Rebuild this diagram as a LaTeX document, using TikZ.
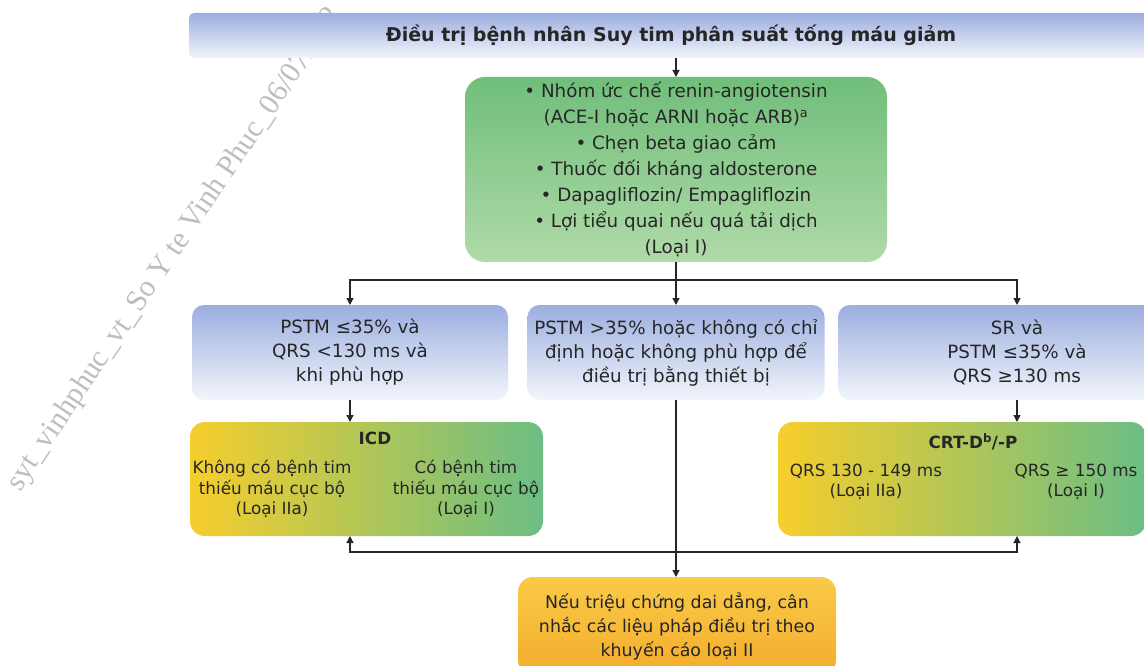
\documentclass[tikz,border=0pt]{standalone}
\usepackage{fontspec}
\setmainfont{DejaVu Sans}
\newfontfamily\wmfont{Liberation Serif}
\usetikzlibrary{arrows.meta}
\definecolor{bluetop}{RGB}{156,174,224}
\definecolor{bluebot}{RGB}{242,245,251}
\definecolor{greentop}{RGB}{112,190,122}
\definecolor{greenbot}{RGB}{176,218,168}
\definecolor{yel}{RGB}{246,206,44}
\definecolor{ymid}{RGB}{205,212,88}
\definecolor{grn}{RGB}{108,190,132}
\definecolor{orgtop}{RGB}{250,202,72}
\definecolor{orgbot}{RGB}{244,172,44}
\definecolor{txt}{RGB}{38,38,38}
\definecolor{wm}{RGB}{190,190,190}
\tikzset{
  every node/.style={inner sep=0pt, outer sep=0pt, text=txt},
  titlebox/.style={rectangle, rounded corners=5pt, top color=bluetop, bottom color=bluebot, font=\fontsize{19}{22}\selectfont\bfseries},
  bluebox/.style={rectangle, rounded corners=12pt, top color=bluetop, bottom color=bluebot, align=center, font=\fontsize{18.3}{24}\selectfont},
  greenbox/.style={rectangle, rounded corners=20pt, top color=greentop, bottom color=greenbot, align=center, font=\fontsize{18.3}{26}\selectfont},
  devbox/.style={rectangle, rounded corners=15pt, left color=yel, middle color=ymid, right color=grn},
  orgbox/.style={rectangle, rounded corners=15pt, top color=orgtop, bottom color=orgbot, align=center, font=\fontsize{17.4}{24}\selectfont},
  devtitle/.style={font=\fontsize{16.8}{20}\selectfont\bfseries},
  devtext/.style={align=center, font=\fontsize{16.8}{20.5}\selectfont},
  arr/.style={-{Triangle[length=7pt,width=7pt]}, line width=1.3pt, draw=black!85}
}
\begin{document}
\begin{tikzpicture}[x=1pt,y=-1pt]
\useasboundingbox (0,0) rectangle (1144,666);
\clip (0,0) rectangle (1144,666);
\fill[white] (0,0) rectangle (1144,666);
% watermark
\node[rotate=56, anchor=base west, font=\wmfont\fontsize{30}{31}\selectfont, text=wm] (wmark) at (20,492) {syt\_vinhphuc\_vt\_So Y te Vinh Phuc\_06/07/202};
% boxes
\node[titlebox, minimum width=964pt, minimum height=45pt] (title) at (671,35.5) {Điều trị bệnh nhân Suy tim phân suất tống máu giảm};
\node[greenbox, minimum width=422pt, minimum height=185pt] (green) at (676,169.5) {• Nhóm ức chế renin-angiotensin\\(ACE-I hoặc ARNI hoặc ARB)\textsuperscript{a}\\• Chẹn beta giao cảm\\• Thuốc đối kháng aldosterone\\• Dapagliflozin/ Empagliflozin\\• Lợi tiểu quai nếu quá tải dịch\\(Loại I)};
\node[bluebox, minimum width=316pt, minimum height=95pt] (bl) at (350,352.5) {PSTM ≤35\% và\\QRS <130 ms và\\khi phù hợp};
\node[bluebox, minimum width=297pt, minimum height=95pt] (bm) at (676,352.5) {PSTM >35\% hoặc không có chỉ\\định hoặc không phù hợp để\\điều trị bằng thiết bị};
\node[bluebox, minimum width=358pt, minimum height=95pt] (br) at (1017,352.5) {SR và\\PSTM ≤35\% và\\QRS ≥130 ms};
\node[devbox, minimum width=353pt, minimum height=114pt] (icd) at (366.5,479) {};
\node[devtitle] (icdt) at (375,438) {ICD};
\node[devtext] (icdl) at (272,489) {Không có bệnh tim\\thiếu máu cục bộ\\(Loại IIa)};
\node[devtext] (icdr) at (466,489) {Có bệnh tim\\thiếu máu cục bộ\\(Loại I)};
\node[devbox, minimum width=368pt, minimum height=114pt] (crt) at (962,479) {};
\node[devtitle] (crtt) at (973,442) {CRT-D\textsuperscript{b}/-P};
\node[devtext] (crtl) at (866,482) {QRS 130 - 149 ms\\(Loại IIa)};
\node[devtext] (crtr) at (1076,482) {QRS ≥ 150 ms\\(Loại I)};
\node[orgbox, minimum width=318pt, minimum height=98pt] (bot) at (677,626) {Nếu triệu chứng dai dẳng, cân\\nhắc các liệu pháp điều trị theo\\khuyến cáo loại II};
% connectors
\coordinate (jt) at (676,280);
\coordinate (jb) at (676,552);
\draw[arr] (title.south -| green.north) -- (green.north);
\draw[arr] (green.south) -- (bm.north);
\draw[arr] (jt) -| (bl.north);
\draw[arr] (jt) -| (br.north);
\draw[arr] (bl.south) -- (bl.south |- icd.north);
\draw[arr] (br.south) -- (br.south |- crt.north);
\draw[arr] (bm.south) -- (bm.south |- bot.north);
\draw[arr] (jb) -| (bl.south |- icd.south);
\draw[arr] (jb) -| (br.south |- crt.south);
\end{tikzpicture}
\end{document}
